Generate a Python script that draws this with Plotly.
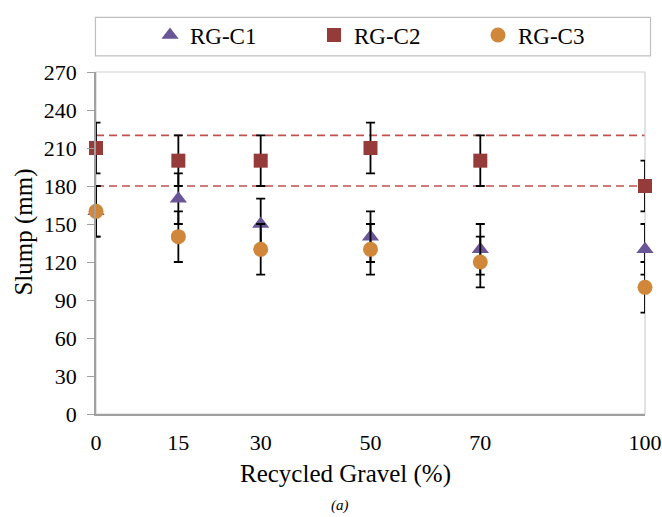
import plotly.graph_objects as go

# Recycled gravel replacement level (%)
recycled_pct = [0, 15, 30, 50, 70, 100]
x_tick_labels = ["0", "15", "30", "50", "70", "100"]

# Slump (mm) for each mix series
slump_c1 = [160, 170, 150, 140, 130, 130]
slump_c2 = [210, 200, 200, 210, 200, 180]
slump_c3 = [160, 140, 130, 130, 120, 100]

# Error bar half-ranges (mm)
err_c1 = [20, 20, 20, 20, 20, 20]
err_c2 = [20, 20, 20, 20, 20, 20]
err_c3 = [20, 20, 20, 20, 20, 20]

# Target slump band (mm)
band_low = 180
band_high = 220

y_ticks = list(range(0, 271, 30))

SERIF = "Liberation Serif, Times New Roman, serif"

series = [
    ("RG-C1", slump_c1, err_c1, "triangle-up", "#6a5597", 15),
    ("RG-C2", slump_c2, err_c2, "square", "#953c3a", 14),
    ("RG-C3", slump_c3, err_c3, "circle", "#d0873a", 15),
]

fig = go.Figure()
for name, vals, errs, sym, col, size in series:
    fig.add_trace(go.Scatter(
        x=recycled_pct, y=vals, name=name, mode="markers",
        marker=dict(symbol=sym, color=col, size=size, line=dict(width=0)),
        error_y=dict(type="data", array=errs, visible=True,
                     color="#000000", thickness=1.8, width=4.5),
        cliponaxis=False,
    ))

# Dashed limits of the target band
for level in (band_high, band_low):
    fig.add_shape(type="line", xref="paper", yref="y", x0=0, x1=1,
                  y0=level, y1=level,
                  line=dict(color="#c0504d", width=1.6, dash="8px,5px"),
                  layer="below")

# Plot-area frame (light top/right edges)
fig.add_shape(type="rect", xref="paper", yref="paper", x0=0, x1=1, y0=0, y1=1,
              line=dict(color="#cfcfcf", width=1.2), layer="below")

# Legend frame
fig.add_shape(type="rect", xref="paper", yref="paper",
              x0=-0.001, x1=1.01, y0=1.047, y1=1.16,
              line=dict(color="#bfbfbf", width=1.2))

fig.update_layout(
    width=662, height=517,
    margin=dict(l=95.5, r=17, t=72, b=103, autoexpand=False),
    paper_bgcolor="white", plot_bgcolor="white",
    font=dict(family=SERIF, size=22, color="#000000"),
    showlegend=True,
    legend=dict(orientation="h", xref="container", yref="container",
                x=150 / 662, xanchor="left", y=1 - 35 / 517, yanchor="middle",
                entrywidth=119, entrywidthmode="pixels",
                font=dict(family=SERIF, size=23), bgcolor="rgba(0,0,0,0)",
                borderwidth=0, itemsizing="trace"),
    xaxis=dict(range=[0, 100], tickmode="array", tickvals=recycled_pct,
               ticktext=x_tick_labels, ticks="", showgrid=False, zeroline=False,
               showline=True, linecolor="#a0a0a0", linewidth=1.5,
               ticklabelstandoff=8, tickfont=dict(size=22)),
    yaxis=dict(range=[0, 270], tickmode="array", tickvals=y_ticks,
               ticks="outside", ticklen=7, tickcolor="#a0a0a0", tickwidth=1.2,
               showgrid=False, zeroline=False, showline=True,
               linecolor="#a0a0a0", linewidth=1.5,
               ticklabelstandoff=6, tickfont=dict(size=22)),
    annotations=[
        dict(text="Slump (mm)", xref="paper", yref="paper",
             x=(23 - 95.5) / 549.5, y=(414 - 232) / 342, textangle=-90,
             showarrow=False, font=dict(family=SERIF, size=25),
             xanchor="center", yanchor="middle"),
        dict(text="Recycled Gravel (%)", xref="paper", yref="paper",
             x=(345 - 95.5) / 549.5, y=-(474 - 414) / 342,
             showarrow=False, font=dict(family=SERIF, size=25),
             xanchor="center", yanchor="middle"),
        dict(text="<i>(a)</i>", xref="paper", yref="paper",
             x=(340 - 95.5) / 549.5, y=-(505 - 414) / 342,
             showarrow=False, font=dict(family=SERIF, size=15),
             xanchor="center", yanchor="middle"),
    ],
)

fig.write_html("out.html")
